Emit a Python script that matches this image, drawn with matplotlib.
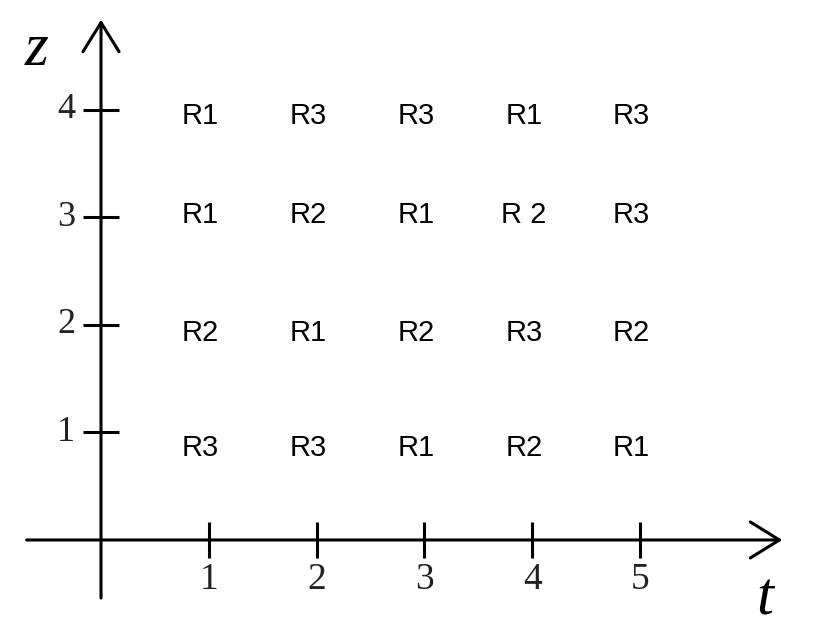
import numpy as np
import matplotlib
matplotlib.use('Agg')
from matplotlib import pyplot as plt

# grid of time slots (t) and levels (z)
t_vals = [1, 2, 3, 4, 5]
z_vals = [4, 3, 2, 1]
labels = [
    ['R1', 'R3', 'R3', 'R1', 'R3'],   # z = 4
    ['R1', 'R2', 'R1', 'R 2', 'R3'],  # z = 3
    ['R2', 'R1', 'R2', 'R3', 'R2'],   # z = 2
    ['R3', 'R3', 'R1', 'R2', 'R1'],   # z = 1
]

row_dy = [-4.3, 1.8, -6, -11]  # small vertical nudges per row (points)

fig = plt.figure(figsize=(8.18, 6.35), dpi=100)
ax = fig.add_axes([0, 0, 1, 1])
ax.set_xlim(-0.937, 6.651)
ax.set_ylim(-0.884, 5.023)
ax.axis('off')

serif = ['Liberation Serif', 'DejaVu Serif']
sans = ['Liberation Sans', 'DejaVu Sans']

# axes with open arrow heads
arrow = dict(arrowstyle='->, head_length=2.1, head_width=1.3', lw=2.2,
             color='black', shrinkA=0, shrinkB=0, mutation_scale=10)
ax.annotate('', xy=(6.32, 0), xytext=(-0.69, 0), arrowprops=arrow)
ax.annotate('', xy=(0, 4.84), xytext=(0, -0.54), arrowprops=arrow)

# ticks
ax.plot(t_vals, np.zeros(len(t_vals)), ls='none', marker='|',
        ms=26, mew=2.2, color='black')
ax.plot(np.zeros(len(z_vals)), z_vals, ls='none', marker='_',
        ms=26, mew=2.2, color='black')

# tick labels
for t in t_vals:
    ax.annotate(str(t), xy=(t, 0), xytext=(0, -29), textcoords='offset points',
                ha='center', va='center', fontsize=27, family=serif, color='#222222')
for z in z_vals:
    ax.annotate(str(z), xy=(0, z), xytext=(-25, 0), textcoords='offset points',
                ha='center', va='center', fontsize=26, family=serif, color='#222222')

# axis names
ax.text(-0.594, 4.56, 'z', fontsize=44, style='italic', family=serif,
        ha='center', va='center')
ax.text(6.16, -0.56, 't', fontsize=44, style='italic', family=serif,
        ha='center', va='center')

# cell labels
for i, z in enumerate(z_vals):
    for j, t in enumerate(t_vals):
        ax.annotate(labels[i][j], xy=(t, z), xytext=(-6, row_dy[i]),
                    textcoords='offset points', ha='center', va='center',
                    fontsize=21, family=sans, color='black')

plt.savefig('out.png', dpi=100)
